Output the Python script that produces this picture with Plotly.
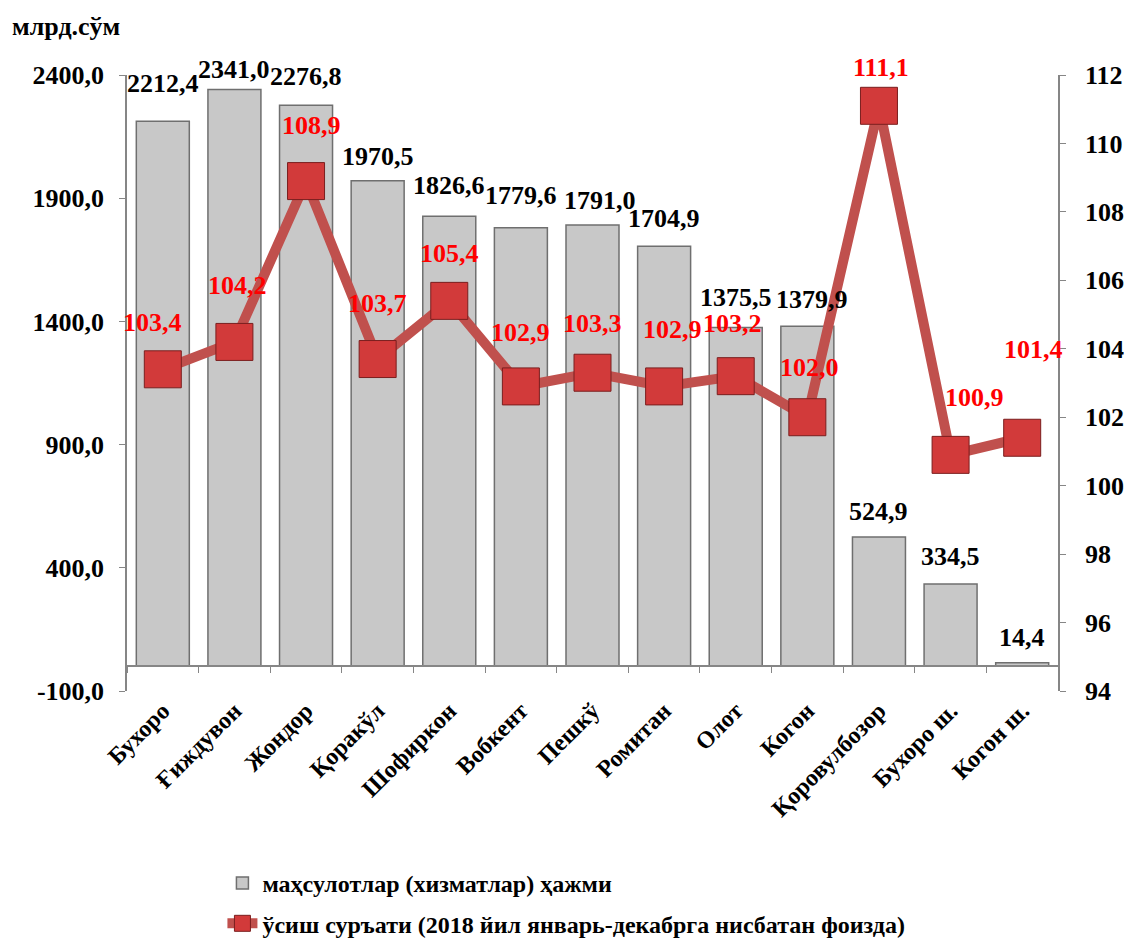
import plotly.graph_objects as go

categories = ["Бухоро", "Ғиждувон", "Жондор", "Қоракўл", "Шофиркон", "Вобкент",
              "Пешкў", "Ромитан", "Олот", "Когон", "Қоровулбозор", "Бухоро ш.", "Когон ш."]
volume = [2212.4, 2341.0, 2276.8, 1970.5, 1826.6, 1779.6, 1791.0, 1704.9,
          1375.5, 1379.9, 524.9, 334.5, 14.4]
growth = [103.4, 104.2, 108.9, 103.7, 105.4, 102.9, 103.3, 102.9,
          103.2, 102.0, 111.1, 100.9, 101.4]
left_ticks = [-100, 400, 900, 1400, 1900, 2400]
right_ticks = [94, 96, 98, 100, 102, 104, 106, 108, 110, 112]

series_bar = "маҳсулотлар (хизматлар) ҳажми"
series_line = "ўсиш суръати (2018 йил январь-декабрга нисбатан фоизда)"
unit_label = "млрд.сўм"

# label offsets (pixels, styling only)
bar_dy = [38, 20, 29, 24, 31, 32, 25, 28, 30, 27, 26, 27, 25]
bar_dx = [0, 0, 0, 0, 0, 0, 7, 0, 0, 5, 0, 0, 0]
line_dy = [47, 56, 56, 56, 47, 54, 49, 57, 53, 50, 38, 57, 88]
line_dx = [-10, 3, 5, 0, 0, 0, 0, 8, -3, 2, 2, 24, 11]

FONT = "Liberation Serif, Times New Roman, serif"
AX = "#868686"


def fmt(v):
    return f"{v:.1f}".replace(".", ",")


n = len(categories)
fig = go.Figure()
fig.add_trace(go.Bar(
    x=categories, y=volume, name=series_bar,
    marker=dict(color="#c8c8c8", line=dict(color="#6f6f6f", width=1.5)),
    legendgroup="a",
))
fig.add_trace(go.Scatter(
    x=categories, y=growth, name=series_line, yaxis="y2",
    mode="lines+markers",
    line=dict(color="#c0504d", width=10),
    marker=dict(symbol="square", size=37, color="#d23a3a",
                line=dict(color="#7a1e1e", width=1)),
    legendgroup="b",
))
# invisible helper so the category axis line at zero is drawn
fig.add_trace(go.Scatter(
    x=[-0.5, n - 0.5], y=[0, 0], xaxis="x2", yaxis="y", mode="lines",
    line=dict(width=0), showlegend=False, hoverinfo="skip",
))

ann = []
for i, (c, v) in enumerate(zip(categories, volume)):
    ann.append(dict(x=c, y=v, xref="x", yref="y", text="<b>" + fmt(v) + "</b>", showarrow=False,
                    xshift=bar_dx[i], yshift=bar_dy[i], yanchor="middle",
                    font=dict(family=FONT, size=26, color="black")))
for i, (c, v) in enumerate(zip(categories, growth)):
    ann.append(dict(x=c, y=v, xref="x", yref="y2", text="<b>" + fmt(v) + "</b>", showarrow=False,
                    xshift=line_dx[i], yshift=line_dy[i], yanchor="middle",
                    font=dict(family=FONT, size=26, color="#ff0000")))
ann.append(dict(x=-0.126, y=1.078, xref="paper", yref="paper", xanchor="left",
                yanchor="middle", text="<b>" + unit_label + "</b>", showarrow=False,
                font=dict(family=FONT, size=26, color="black")))

fig.update_layout(
    width=1125, height=941,
    margin=dict(l=127, r=67, t=75, b=250, autoexpand=False),
    paper_bgcolor="white", plot_bgcolor="white",
    bargap=0.26,
    showlegend=True,
    legend=dict(x=0.1025, y=-0.276, xanchor="left", yanchor="top",
                traceorder="grouped", tracegroupgap=6,
                font=dict(family=FONT, size=24, color="black", weight="bold")),
    xaxis=dict(type="category", categoryorder="array", categoryarray=categories,
               range=[-0.5, n - 0.5], showline=False, ticks="", showgrid=False,
               tickangle=-45,
               tickfont=dict(family=FONT, size=24, color="black", weight="bold")),
    xaxis2=dict(overlaying="x", anchor="free", position=0.04, range=[-0.5, n - 0.5],
                type="linear",
                tickmode="array", tickvals=[i - 0.5 for i in range(n + 1)],
                showticklabels=False, ticks="outside", ticklen=6, tickcolor=AX,
                showline=True, linecolor=AX, linewidth=1.5, showgrid=False,
                zeroline=False),
    yaxis=dict(range=[-100, 2400], tickmode="array", tickvals=left_ticks,
               ticktext=[fmt(t) for t in left_ticks], showgrid=False, zeroline=False,
               showline=True, linecolor=AX, linewidth=1.5, ticks="outside",
               ticklen=6, tickcolor=AX, ticklabelstandoff=10,
               tickfont=dict(family=FONT, size=26, color="black", weight="bold")),
    yaxis2=dict(range=[94, 112], overlaying="y", side="right", tickmode="array",
                tickvals=right_ticks, showgrid=False, zeroline=False,
                showline=True, linecolor=AX, linewidth=1.5, ticks="outside",
                ticklen=6, tickcolor=AX, ticklabelstandoff=14,
                tickfont=dict(family=FONT, size=26, color="black", weight="bold")),
    annotations=ann,
)

fig.write_html("out.html", config={"displayModeBar": False},
               post_script="document.body.style.margin='0';")
